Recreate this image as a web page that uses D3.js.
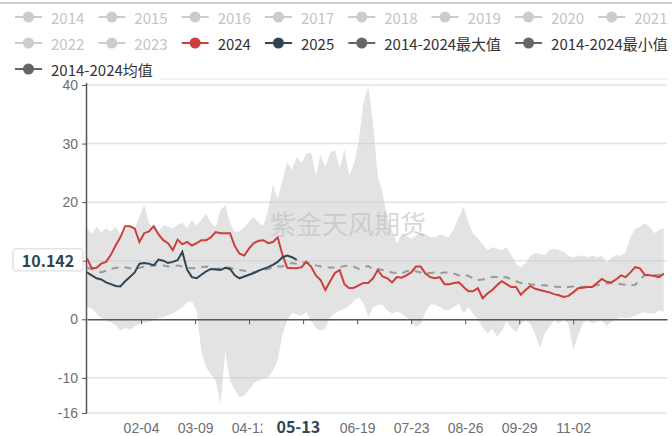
<!DOCTYPE html>
<html>
<head>
<meta charset="utf-8">
<script src="https://cdn.jsdelivr.net/npm/d3@7"></script>
<style>
  html, body { margin: 0; padding: 0; background: #fff; }
  svg { display: block; font-family: "Noto Sans CJK SC", "Microsoft YaHei", sans-serif; }
</style>
</head>
<body>
<div id="chart"></div>
<script>
// legend entries (only the last five are switched on)
var legendNames = ["2014","2015","2016","2017","2018","2019","2020","2021","2022","2023",
                   "2024","2025","2014-2024最大值","2014-2024最小值","2014-2024均值"];
var legendColors = {"2024": "#cc3f3b", "2025": "#2f4554",
                    "2014-2024最大值": "#666", "2014-2024最小值": "#666", "2014-2024均值": "#666"};

var tickLabels = ["02-04","03-09","04-12","05-16","06-19","07-23","08-26","09-29","11-02"];
var yTicks = [40, 30, 20, 10, 0, -10, -16];

var pointerDate = "05-13";
var pointerValue = 10.142;

// values read every third day from 01-01
var values2024 = [10.4,8.7,8.8,9.5,9.8,11.0,12.6,14.0,15.9,15.9,15.5,13.2,14.7,15.0,15.9,14.5,13.5,13.0,11.8,13.6,
  12.8,13.2,12.6,13.0,13.5,13.5,14.0,14.9,14.7,14.7,14.7,12.5,11.2,10.9,12.1,13.0,13.4,13.5,13.0,13.2,
  14.0,11.0,8.8,8.7,8.7,8.9,9.8,9.0,7.5,6.7,5.0,6.5,7.9,8.4,6.0,5.3,5.4,5.8,6.2,6.2,
  7.0,8.4,7.3,7.0,6.3,7.2,7.1,7.5,8.0,9.0,9.0,7.8,7.2,7.0,7.2,6.0,6.0,6.2,6.3,5.5,
  4.8,4.8,5.3,3.6,4.4,5.0,5.8,6.5,6.0,5.5,5.5,4.2,5.0,5.7,5.2,5.0,4.8,4.6,4.3,4.1,
  3.8,4.0,4.6,5.3,5.4,5.5,5.5,6.2,6.9,6.4,6.3,6.8,7.5,7.2,8.0,8.9,8.7,7.6,7.5,7.4,
  7.2,7.8];
var values2025 = [8.0,7.5,7.0,6.8,6.3,6.0,5.7,5.6,6.5,7.2,8.0,9.5,9.6,9.5,9.2,10.2,10.0,9.6,9.8,10.1,
  11.5,8.5,7.2,7.0,7.6,8.2,8.6,8.5,8.4,8.8,8.6,7.5,7.0,7.3,7.6,7.9,8.3,8.6,8.9,9.3,
  9.8,10.6,10.9,10.6,10.142];
var valuesMean = [8.8,8.6,8.3,8.0,8.3,8.6,8.8,8.9,8.9,8.7,8.6,8.8,9.0,9.1,9.2,9.3,9.2,9.0,9.1,9.2,
  9.0,8.8,8.7,8.8,8.9,9.0,8.8,8.6,8.7,8.9,8.8,8.5,8.4,8.3,8.1,8.0,8.2,8.4,8.6,8.8,
  9.0,9.0,9.4,9.6,9.5,9.6,9.8,9.4,9.2,9.0,9.0,8.8,8.9,8.9,9.1,9.2,9.0,8.6,8.9,9.1,
  8.5,8.6,8.4,8.2,8.0,7.9,7.8,8.2,8.4,8.2,8.0,7.9,7.9,8.0,7.9,8.0,8.0,7.8,7.5,7.6,
  7.4,7.0,6.7,6.8,7.0,7.2,7.2,7.1,7.2,6.8,6.5,6.2,6.2,6.0,5.9,5.8,5.8,5.7,5.6,5.5,
  5.5,5.5,5.6,5.6,5.5,5.6,5.7,5.8,6.0,6.1,6.2,6.1,6.0,5.9,5.8,5.9,6.8,7.5,7.5,7.5,
  7.6,7.8];
var valuesMax = [15.5,14.5,15.8,14.8,15.5,15.0,15.8,14.5,15.2,16.0,15.5,17.5,19.5,16.5,15.5,15.0,16.0,15.8,15.5,16.2,
  16.5,15.5,17.0,16.0,17.0,18.0,16.5,15.7,18.6,19.5,16.4,15.0,15.0,15.7,16.8,17.4,16.5,16.0,18.6,23.0,
  20.5,23.8,26.8,25.5,27.7,26.7,28.2,28.5,24.5,28.0,26.0,28.4,28.9,25.8,29.0,24.5,26.5,30.5,37.0,39.8,
  33.5,24.5,21.5,17.5,15.2,13.0,14.5,14.2,13.8,14.3,14.8,14.5,14.0,14.0,14.5,14.2,14.0,15.5,17.4,19.2,
  16.5,14.6,13.8,12.8,11.8,12.3,12.1,11.8,12.3,11.0,9.5,8.9,9.6,10.8,11.3,11.2,10.9,11.8,12.1,11.8,
  11.5,10.8,10.6,10.8,10.9,10.6,10.9,10.6,10.8,9.7,10.5,11.0,10.8,11.5,14.0,15.5,15.8,16.4,15.8,14.7,
  15.3,15.5];
var valuesMin = [2.1,1.9,1.0,0.2,-0.2,-0.5,-1.0,-1.9,-1.5,-1.8,-1.2,-0.7,-0.6,-0.4,-0.2,0.2,0.3,0.7,1.0,1.5,
  2.0,2.9,3.1,1.5,-5.5,-8.2,-9.4,-10.5,-14.5,-5.5,-10.5,-12.0,-13.3,-13.0,-12.0,-10.9,-10.4,-10.2,-9.9,-8.8,
  -7.0,-2.6,-0.2,1.1,0.8,0.6,1.2,-0.3,-1.5,-1.9,-1.5,0.2,1.0,1.5,1.8,2.3,3.2,3.7,2.8,0.3,
  2.1,2.5,2.5,1.5,1.0,1.3,1.0,0.3,-0.3,-1.3,-0.8,1.2,2.5,2.5,2.1,1.6,1.6,2.1,2.7,1.0,
  2.1,1.0,0.0,-1.4,-2.4,-1.6,-3.0,-1.9,-0.4,-1.4,-2.2,-0.8,-0.2,-0.8,-2.5,-4.8,-2.5,-1.2,-0.2,-0.7,
  0.0,-0.8,-5.3,-2.8,-0.7,-0.2,-0.7,-0.4,-0.2,-1.2,-0.4,0.0,0.3,0.2,0.3,0.6,1.0,1.2,1.0,1.0,
  1.5,1.3];

var width = 672, height = 436;
var margin = {left: 87, right: 5, top: 85, bottom: 23};

// category axis: every day of a (leap) year
var fmt = d3.timeFormat("%m-%d");
var categories = d3.timeDay.range(new Date(2024, 0, 1), new Date(2025, 0, 1)).map(fmt);
var sampleDates = categories.filter(function(d, i) { return i % 3 === 0; });

var svg = d3.select("#chart").append("svg")
    .attr("width", width)
    .attr("height", height);

var x = d3.scalePoint().domain(categories).range([margin.left, width - margin.right]);
var y = d3.scaleLinear().domain([-16, 40]).range([height - margin.bottom, margin.top]);

// frame lines of the page
svg.append("line").attr("x1", 0).attr("x2", width).attr("y1", 3).attr("y2", 3)
    .attr("stroke", "#cfcfcf").attr("stroke-width", 2);
svg.append("line").attr("x1", 160).attr("x2", width - margin.right).attr("y1", 79).attr("y2", 79)
    .attr("stroke", "#e6e6e6");

// 1. grid lines
svg.append("g").selectAll("line")
    .data(yTicks.filter(function(d) { return d !== 0; }))
    .enter().append("line")
    .attr("x1", margin.left).attr("x2", width - margin.right)
    .attr("y1", function(d) { return y(d); }).attr("y2", function(d) { return y(d); })
    .attr("stroke", "#e3e3e3").attr("stroke-width", 1.5);

// 2. min-max band
var band = d3.area()
    .x(function(d, i) { return x(sampleDates[i]); })
    .y0(function(d, i) { return y(valuesMin[i]); })
    .y1(function(d, i) { return y(valuesMax[i]); });
svg.append("path").datum(valuesMax)
    .attr("d", band)
    .attr("fill", "#c8c8c8").attr("fill-opacity", 0.5);

// 3. axes (labels hidden under the pointer boxes are left empty)
var yAxis = svg.append("g")
    .attr("transform", "translate(" + margin.left + ",0)")
    .call(d3.axisLeft(y).tickValues(yTicks).tickSize(5).tickPadding(4)
        .tickFormat(function(d) { return d === 10 ? "" : d; }));
yAxis.select(".domain").attr("d", "M-0.5," + 83 + "V" + y(-16)).attr("stroke", "#555").attr("stroke-width", 1.5);
yAxis.selectAll(".tick line").attr("stroke", "#555");
yAxis.selectAll("text").attr("fill", "#6e6e6e").style("font-size", "14px");

var xAxis = svg.append("g")
    .attr("transform", "translate(0," + y(0) + ")")
    .call(d3.axisBottom(x).tickValues(tickLabels).tickSize(5).tickPadding(99).tickSizeOuter(0)
        .tickFormat(function(d) { return d === "05-16" ? "" : d; }));
xAxis.select(".domain").attr("stroke", "#555").attr("stroke-width", 1.5);
xAxis.selectAll(".tick line").attr("stroke", "#555");
xAxis.selectAll("text").attr("fill", "#6e6e6e").style("font-size", "14px");

// 4. lines
function makeLine(dates) {
    return d3.line()
        .x(function(d, i) { return x(dates[i]); })
        .y(function(d) { return y(d); });
}
svg.append("path").datum(valuesMean)
    .attr("d", makeLine(sampleDates))
    .attr("fill", "none").attr("stroke", "#9a9a9a").attr("stroke-width", 2)
    .attr("stroke-dasharray", "7,6");
svg.append("path").datum(values2024)
    .attr("d", makeLine(sampleDates))
    .attr("fill", "none").attr("stroke", legendColors["2024"]).attr("stroke-width", 2);
svg.append("path").datum(values2025)
    .attr("d", makeLine(sampleDates))
    .attr("fill", "none").attr("stroke", legendColors["2025"]).attr("stroke-width", 2);

// 5. watermark
svg.append("text")
    .attr("x", 348).attr("y", 222)
    .attr("text-anchor", "middle").attr("dominant-baseline", "central")
    .attr("fill", "#bdbdbd").attr("fill-opacity", 0.6)
    .style("font-size", "26px")
    .text("紫金天风期货");

// 6. axis pointer labels
var py = y(pointerValue);
svg.append("rect")
    .attr("x", 13).attr("y", py - 11).attr("width", 70).attr("height", 22)
    .attr("rx", 2).attr("fill", "#fff").attr("stroke", "#d5d5d5");
svg.append("text")
    .attr("x", 48).attr("y", py)
    .attr("text-anchor", "middle").attr("dominant-baseline", "central")
    .attr("fill", "#2f4554").style("font-size", "16px").style("font-weight", "bold")
    .text(pointerValue);

var px = x(pointerDate);
svg.append("rect")
    .attr("x", px - 36).attr("y", 418).attr("width", 74).attr("height", 18)
    .attr("fill", "#fff");
svg.append("text")
    .attr("x", px).attr("y", 426)
    .attr("text-anchor", "middle").attr("dominant-baseline", "central")
    .attr("fill", "#2f4554").style("font-size", "16px").style("font-weight", "bold")
    .text(pointerDate);

// 7. legend, flowing in rows
var legend = svg.append("g");
var lx = 15, ly = 17, wrapWidth = 740;
legendNames.forEach(function(name) {
    var on = legendColors[name] !== undefined;
    var color = on ? legendColors[name] : "#cccccc";
    var item = legend.append("g");
    var label = item.append("text")
        .attr("x", 36).attr("y", 0)
        .attr("dominant-baseline", "central")
        .attr("fill", on ? "#333" : "#c4c4c4")
        .style("font-size", "15px")
        .text(name);
    var w = 36 + label.node().getComputedTextLength();
    if (lx + w > wrapWidth) { lx = 15; ly += 26; }
    item.attr("transform", "translate(" + lx + "," + ly + ")");
    item.append("line").attr("x1", 0).attr("x2", 27).attr("y1", 0).attr("y2", 0)
        .attr("stroke", color).attr("stroke-width", 2);
    item.append("circle").attr("cx", 13.5).attr("cy", 0).attr("r", 5.5).attr("fill", color);
    lx += w + 14;
});
</script>
</body>
</html>
